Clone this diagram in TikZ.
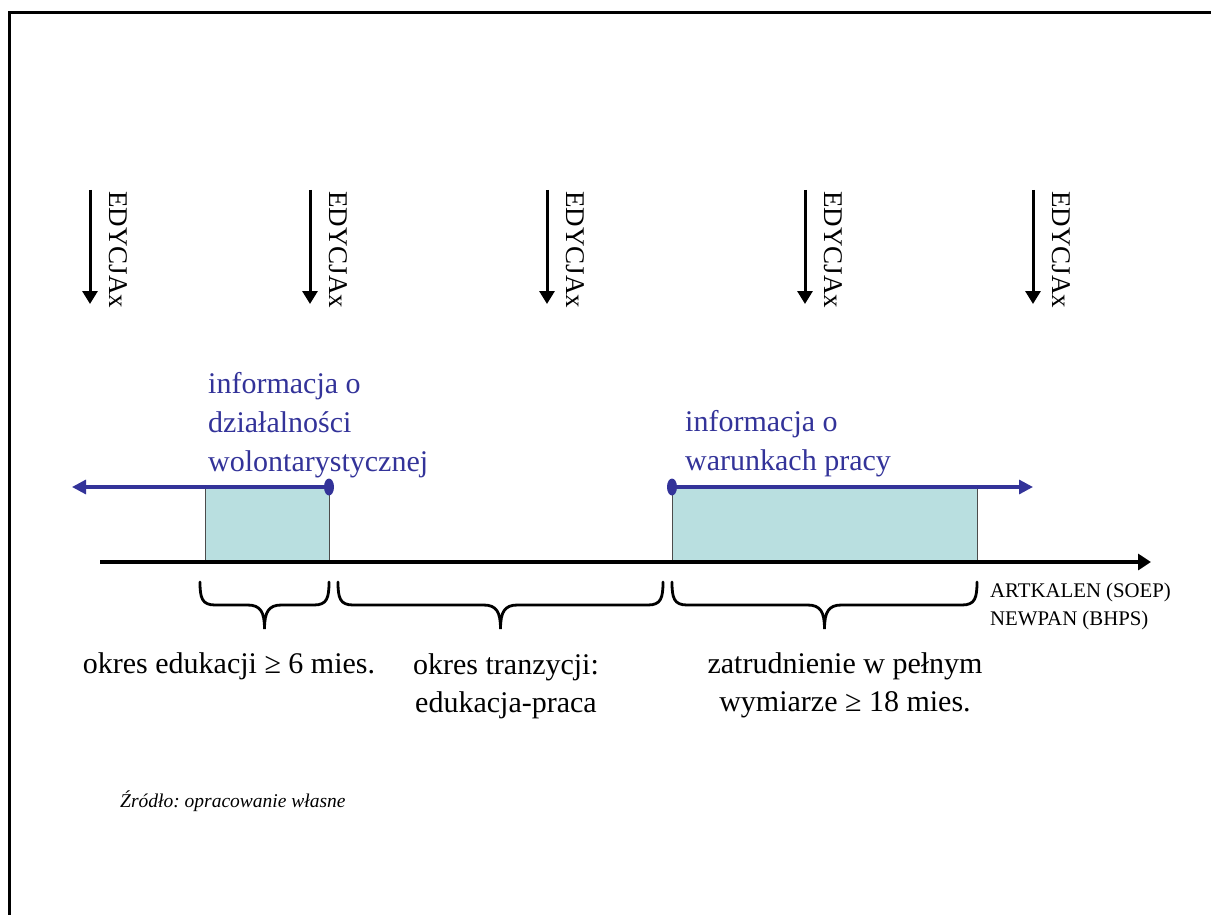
\documentclass[tikz,border=0pt]{standalone}
\usepackage{fontspec}
\setmainfont{Liberation Serif}
\usetikzlibrary{arrows.meta}
\definecolor{infoblue}{HTML}{333399}
\definecolor{periodfill}{HTML}{B9DFE0}
\frenchspacing
% klamra pod okresem: #1 lewy koniec, #2 prawy koniec (x)
\newcommand{\spanbrace}[2]{%
\draw[span] (#1,582) .. controls (#1,598) and (#1+2,605) .. (#1+15,605)
  -- ({(#1+#2)/2-17},605) .. controls ({(#1+#2)/2-4},605) and ({(#1+#2)/2},612) .. ({(#1+#2)/2},629)
  .. controls ({(#1+#2)/2},612) and ({(#1+#2)/2+4},605) .. ({(#1+#2)/2+17},605)
  -- (#2-15,605) .. controls (#2-2,605) and (#2,598) .. (#2,582);}

\begin{document}
\begin{tikzpicture}[x=1pt,y=-1pt,
  wave/.style={line width=3pt,-{Triangle[width=15pt,length=13pt]}},
  wavetext/.style={rotate=-90,anchor=west,inner sep=0pt,font=\fontsize{27}{32}\selectfont},
  infoline/.style={infoblue,line width=3.2pt,-{Triangle[width=14pt,length=14pt]}},
  infotext/.style={infoblue,align=left,anchor=west,inner sep=0pt,font=\fontsize{30}{39}\selectfont},
  period/.style={fill=periodfill,draw=black!70,line width=1pt},
  span/.style={line width=2.8pt,line cap=round},
  spantext/.style={align=center,inner sep=0pt,font=\fontsize{30}{38}\selectfont}]
\useasboundingbox (0,0) rectangle (1211,915);
%ramka
\draw[line width=3pt] (9,915) -- (9,13) -- (1211,13);
%edycje
\foreach \x [count=\i] in {90,310,547,805,1033}{
  \coordinate (e\i) at (\x,190);
  \coordinate (e\i b) at (\x,304);
  \draw[wave] (e\i) -- (e\i b);
  \node[wavetext] (ed\i) at (\x+28,191) {EDYCJAx};
}
%okresy
\coordinate (p1a) at (205,562); \coordinate (p1b) at (329,487);
\coordinate (p2a) at (672,562); \coordinate (p2b) at (977,487);
\draw[period] (p1a) rectangle (p1b);
\draw[period] (p2a) rectangle (p2b);
%os czasu
\coordinate (t0) at (100,562);
\coordinate (t1) at (1151,562);
\draw[line width=3.4pt,-{Triangle[width=16pt,length=13pt]}] (t0) -- (t1);
%informacje
\coordinate (i1) at (72,487);
\coordinate (i2a) at (672,487);
\coordinate (i2) at (1033,487);
\draw[infoline] (p1b) -- (i1);
\fill[infoblue] (p1b) ellipse (5 and 8.5);
\draw[infoline] (i2a) -- (i2);
\fill[infoblue] (i2a) ellipse (5 and 8.5);
\node[infotext] (inf1) at (208,425) {informacja o\\działalności\\wolontarystycznej};
\node[infotext] (inf2) at (685,444) {informacja o\\warunkach pracy};
%klamry
\spanbrace{200}{329}
\spanbrace{338}{663}
\spanbrace{672}{977}
\node[spantext] (s1) at (229,666) {okres edukacji ≥ 6 mies.};
\node[spantext] (s2) at (506,686) {okres tranzycji:\\edukacja-praca};
\node[spantext] (s3) at (845,685) {zatrudnienie w pełnym\\wymiarze ≥ 18 mies.};
\node[align=left,anchor=west,inner sep=0pt,font=\fontsize{20.8}{28}\selectfont] (src) at (990,606) {ARTKALEN (SOEP)\\NEWPAN (BHPS)};
\node[anchor=west,inner sep=0pt,font=\fontsize{19.5}{24}\selectfont\itshape] (zr) at (120,801) {Źródło: opracowanie własne};
\end{tikzpicture}
\end{document}
